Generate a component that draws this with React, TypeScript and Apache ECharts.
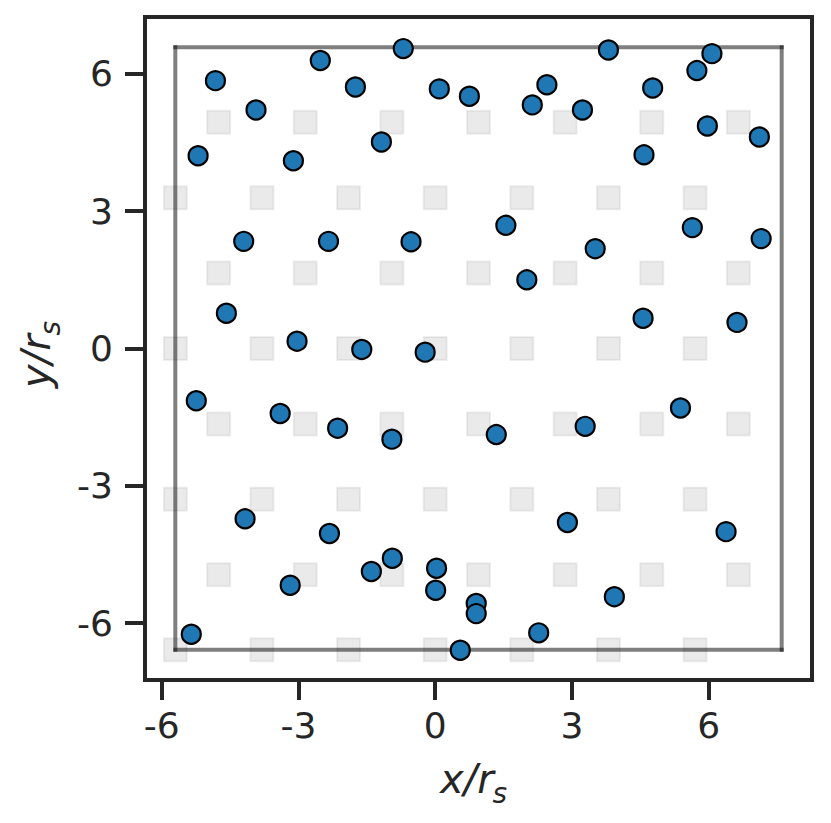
import React, { useEffect, useRef } from "react";
import * as echarts from "echarts";

// Lattice (gray squares): row heights, and x positions of even / odd rows
const LATTICE_ROWS_Y = [-6.58, -4.94, -3.29, -1.65, 0, 1.65, 3.29, 4.94];
const EVEN_ROW_X = [-5.7, -3.8, -1.9, 0, 1.9, 3.8, 5.7];
const ODD_ROW_X = [-4.75, -2.85, -0.95, 0.95, 2.85, 4.75, 6.65];

// Periodic simulation box
const BOX_X = [-5.7, 7.6];
const BOX_Y = [-6.58, 6.58];

// Particles (blue dots)
const PARTICLE_X = [
  -4.82, -2.52, -0.7, -1.75, 0.09, 0.75, -3.93, -5.2, -3.11, -1.18,
  3.8, 6.07, 5.74, 2.45, 2.13, 3.23, 4.77, 5.97, 7.11, 4.58,
  1.55, 5.64, 7.15, -4.2, -2.34, -0.53, 3.51, 2.01,
  -4.58, -3.03, -1.61, -0.22, 4.56, 6.62,
  -5.24, -3.4, -2.14, -0.95, 1.34, 3.29, 5.38,
  -4.17, -2.32, -3.18, -1.4, -0.94, 0.03, 0.01, 0.9, 0.9,
  -5.35, 0.55, 2.9, 6.38, 3.93, 2.27,
];
const PARTICLE_Y = [
  5.85, 6.29, 6.55, 5.71, 5.67, 5.51, 5.21, 4.21, 4.1, 4.51,
  6.52, 6.44, 6.07, 5.76, 5.32, 5.21, 5.69, 4.86, 4.62, 4.23,
  2.69, 2.64, 2.4, 2.34, 2.34, 2.33, 2.18, 1.5,
  0.77, 0.16, -0.02, -0.08, 0.66, 0.57,
  -1.14, -1.42, -1.74, -1.98, -1.88, -1.7, -1.3,
  -3.72, -4.04, -5.17, -4.87, -4.58, -4.8, -5.28, -5.57, -5.79,
  -6.24, -6.59, -3.8, -4.0, -5.42, -6.21,
];

// Axis
const X_TICKS = [-6, -3, 0, 3, 6];
const Y_TICKS = [-6, -3, 0, 3, 6];
const X_MIN = -6.365;
const X_MAX = 8.265;
const Y_MIN = -7.24;
const Y_MAX = 7.24;

const INK = "#262626";
const FONT = "DejaVu Sans";

function measure(text: string, font: string): number {
  const c = document.createElement("canvas").getContext("2d");
  if (!c) return text.length * 18;
  c.font = font;
  return c.measureText(text).width;
}

export default function App() {
  const ref = useRef<HTMLDivElement>(null);

  useEffect(() => {
    document.body.style.margin = "0";
    if (!ref.current) return;
    const chart = echarts.init(ref.current, null, { renderer: "svg" });

    const lattice: number[][] = [];
    LATTICE_ROWS_Y.forEach((y, i) => {
      const xs = i % 2 === 0 ? EVEN_ROW_X : ODD_ROW_X;
      xs.forEach((x) => lattice.push([x, y]));
    });
    const particles = PARTICLE_X.map((x, i) => [x, PARTICLE_Y[i]]);

    const boxSegments = [
      [[BOX_X[0], BOX_Y[0]], [BOX_X[1], BOX_Y[0]]],
      [[BOX_X[1], BOX_Y[0]], [BOX_X[1], BOX_Y[1]]],
      [[BOX_X[1], BOX_Y[1]], [BOX_X[0], BOX_Y[1]]],
      [[BOX_X[0], BOX_Y[1]], [BOX_X[0], BOX_Y[0]]],
    ];

    const titleFont = `italic 40px '${FONT}'`;
    const mainW = measure("x/r", titleFont);
    const mainW2 = measure("y/r", titleFont);
    const mainSize = 40;
    const subSize = 28;
    const mainOff = 0.346 * mainSize;
    const subOff = 0.346 * subSize;

    const textStyle = (text: string, size: number, x: number, y: number) => ({
      text,
      x,
      y,
      fontSize: size,
      fontStyle: "italic",
      fontFamily: FONT,
      fill: INK,
      align: "left",
      verticalAlign: "middle",
      textAlign: "left",
      textVerticalAlign: "middle",
    });

    chart.setOption({
      animation: false,
      backgroundColor: "#ffffff",
      grid: {
        left: 145,
        right: 19,
        top: 17,
        bottom: 143,
        show: true,
        borderColor: INK,
        borderWidth: 4,
        backgroundColor: "transparent",
      },
      xAxis: {
        type: "value",
        min: X_MIN,
        max: X_MAX,
        axisLine: { show: true, onZero: false, lineStyle: { color: INK, width: 4 } },
        axisTick: {
          show: true,
          length: 20,
          lineStyle: { color: INK, width: 4 },
          customValues: X_TICKS,
        },
        axisLabel: {
          customValues: X_TICKS,
          fontSize: 36,
          fontFamily: FONT,
          color: INK,
          margin: 27,
          formatter: (v: number) => String(v),
        },
        splitLine: { show: false },
      },
      yAxis: {
        type: "value",
        min: Y_MIN,
        max: Y_MAX,
        axisLine: { show: true, onZero: false, lineStyle: { color: INK, width: 4 } },
        axisTick: {
          show: true,
          length: 20,
          lineStyle: { color: INK, width: 4 },
          customValues: Y_TICKS,
        },
        axisLabel: {
          customValues: Y_TICKS,
          fontSize: 36,
          fontFamily: FONT,
          color: INK,
          margin: 32,
          formatter: (v: number) => String(v),
        },
        splitLine: { show: false },
      },
      graphic: [
        {
          type: "group",
          children: [
            { type: "text", style: textStyle("x/r", mainSize, 440, 793 - mainOff) },
            { type: "text", style: textStyle("s", subSize, 440 + mainW - 1, 803 - subOff) },
          ],
        },
        {
          type: "group",
          x: 36,
          y: 388,
          rotation: Math.PI / 2,
          children: [
            { type: "text", style: textStyle("y/r", mainSize, 0, 0) },
            { type: "text", style: textStyle("s", subSize, mainW2 - 1, mainOff + 10 - subOff) },
          ],
        },
      ],
      series: [
        {
          type: "scatter",
          data: lattice,
          symbol: "rect",
          symbolSize: 23,
          z: 1,
          silent: true,
          itemStyle: {
            color: "rgba(128,128,128,0.21)",
            borderColor: "rgba(128,128,128,0.16)",
            borderWidth: 2,
          },
        },
        ...boxSegments.map((seg) => ({
          type: "line",
          data: seg,
          symbol: "none",
          z: 2,
          silent: true,
          lineStyle: { color: "rgba(0,0,0,0.5)", width: 4, cap: "square" },
        })),
        {
          type: "scatter",
          data: particles,
          symbol: "circle",
          symbolSize: 19,
          z: 3,
          itemStyle: { color: "#1f77b4", borderColor: "#000000", borderWidth: 2.2, opacity: 1 },
        },
      ],
    });

    return () => chart.dispose();
  }, []);

  return <div ref={ref} style={{ width: 831, height: 823 }} />;
}
